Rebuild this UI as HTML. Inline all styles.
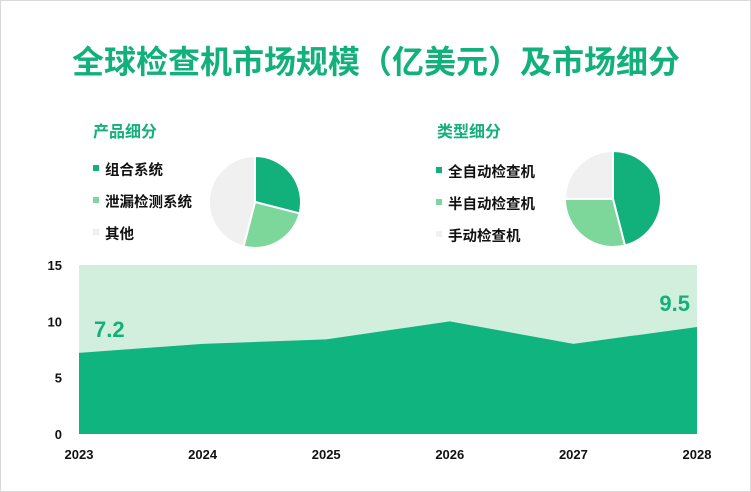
<!DOCTYPE html>
<html><head><meta charset="utf-8"><style>
body{margin:0;background:#fff;}
#c{position:relative;width:751px;height:492px;overflow:hidden;font-family:"Liberation Sans","Noto Sans CJK SC",sans-serif;}
</style></head><body>
<div id="c">
<svg id="s" width="751" height="492" xmlns="http://www.w3.org/2000/svg">
<rect x="0.5" y="0.5" width="750" height="491" fill="#fff" stroke="#d9d9d9"/>
<text x="376" y="73" text-anchor="middle" font-size="32" font-weight="bold" fill="#12b07a" font-family="Liberation Sans,Noto Sans CJK SC,sans-serif">全球检查机市场规模（亿美元）及市场细分</text>
<g id="pies"></g>
<g id="area"></g>
</svg>
</div>
<script>
const years=["2023","2024","2025","2026","2027","2028"];
const values=[7.2,8.0,8.4,10.0,8.0,9.5];
const yTicks=[0,5,10,15];
const productLabels=["组合系统","泄漏检测系统","其他"];
const productShares=[29,25,46];
const typeLabels=["全自动检查机","半自动检查机","手动检查机"];
const typeShares=[46,29,25];
const colors=["#12b07a","#7dd69a","#f0f0f0"];
const NS="http://www.w3.org/2000/svg";
function mk(t,a,p){const e=document.createElementNS(NS,t);for(const k in a)e.setAttribute(k,a[k]);p.appendChild(e);return e;}
const FF="Liberation Sans,Noto Sans CJK SC,sans-serif";
const g=document.getElementById('area');
const x0=79,x1=697,yb=434,yt=265,ymax=15;
const xs=i=>x0+(x1-x0)*i/(years.length-1);
const ys=v=>yb-(yb-yt)*v/ymax;
const bg=mk('rect',{x:x0,y:yt,width:x1-x0,height:yb-yt,fill:'#d1efdc'},g);


let d=`M${x0},${yb}`;values.forEach((v,i)=>d+=` L${xs(i)},${ys(v)}`);d+=` L${x1},${yb} Z`;
const ar=mk('path',{d:d,fill:'#0fb47e'},g);


yTicks.forEach(t=>{const e=mk('text',{x:62,y:ys(t)+5,'text-anchor':'end','font-size':13,'font-weight':'bold',fill:'#111','font-family':FF},g);e.textContent=t;

});
years.forEach((y,i)=>{const e=mk('text',{x:i==0?x0:(i==years.length-1?x1:xs(i)),y:459,'text-anchor':'middle','font-size':13,'font-weight':'bold',fill:'#111','font-family':FF},g);e.textContent=y;

});
[[0,'start',94],[values.length-1,'end',690]].forEach(([i,a,x])=>{const e=mk('text',{x:x,y:ys(values[i])-16,'text-anchor':a,'font-size':22,'font-weight':'bold',fill:'#12b07a','font-family':FF},g);e.textContent=values[i];

});
const pg=document.getElementById('pies');
function pie(cx,cy,r,shares,labels,title,tx,lx,ly,name){
 const t=mk('text',{x:tx,y:137,'font-size':16,'font-weight':'bold',fill:'#12b07a','font-family':FF},pg);t.textContent=title;
 
 
 const tot=shares.reduce((a,b)=>a+b,0);let a=0;
 shares.forEach((s,i)=>{const a1=a+s/tot*2*Math.PI;
  const p=(an)=>[cx+r*Math.sin(an),cy-r*Math.cos(an)];
  const [xa,ya]=p(a),[xb,yb2]=p(a1);
  const sl=mk('path',{d:`M${cx},${cy} L${xa},${ya} A${r},${r} 0 ${a1-a>Math.PI?1:0} 1 ${xb},${yb2} Z`,fill:colors[i],stroke:'#fff','stroke-width':2},pg);
  
  
  a=a1;
  const ry=ly+i*32;
  const m=mk('rect',{x:lx,y:ry-4,width:6,height:6,fill:colors[i]},pg);
  
  
  const lt=mk('text',{x:lx+12,y:ry+6,'font-size':14.5,'font-weight':'bold',fill:'#111','font-family':FF},pg);lt.textContent=labels[i];
  
  
 });
}
pie(255,202,46,productShares,productLabels,"产品细分",93,93,169,'product-pie');
pie(613,199,48,typeShares,typeLabels,"类型细分",437,436,171,'type-pie');
</script>
</body></html>
